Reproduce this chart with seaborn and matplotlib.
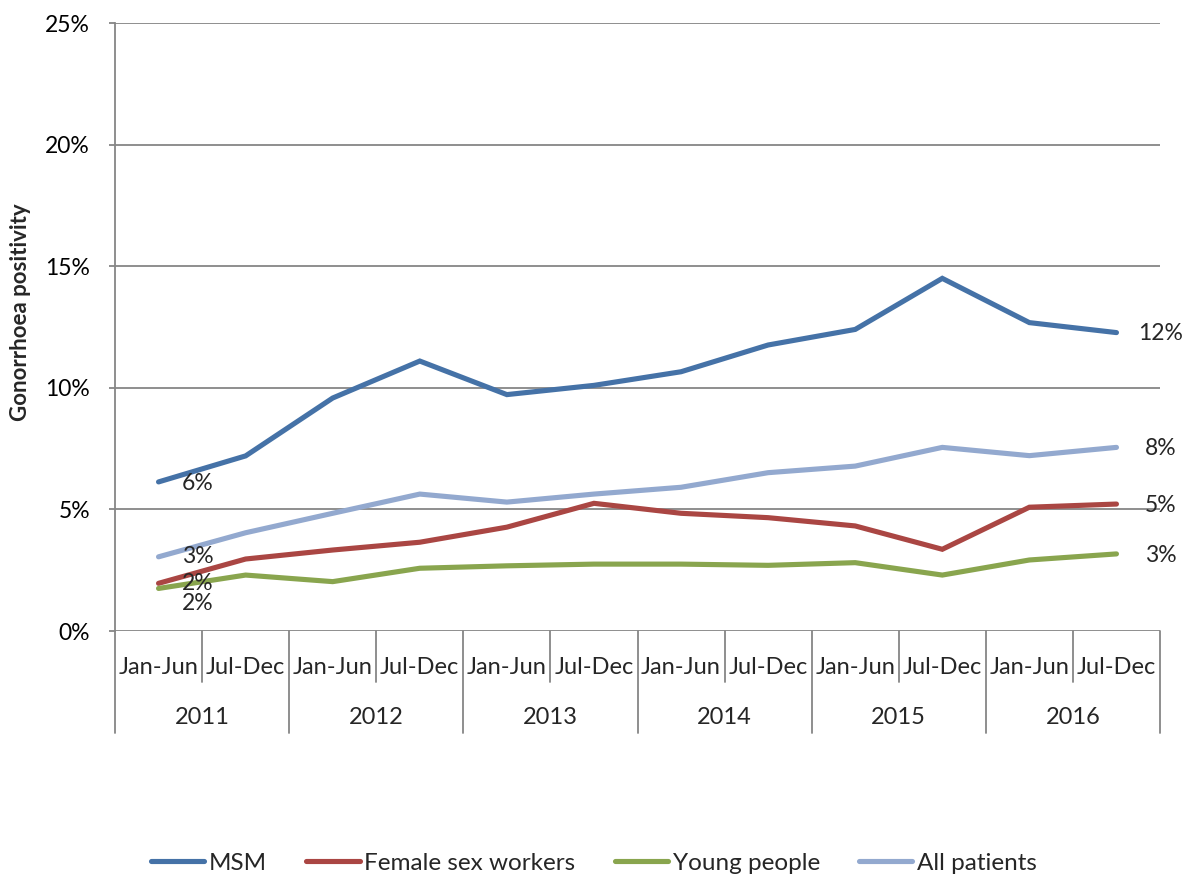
import matplotlib
matplotlib.use("Agg")
import matplotlib.pyplot as plt
import matplotlib.transforms as mtransforms
from matplotlib.ticker import FuncFormatter, MultipleLocator
import pandas as pd
import seaborn as sns

# data (percent)
years = ["2011", "2012", "2013", "2014", "2015", "2016"]
halves = ["Jan-Jun", "Jul-Dec"]
msm = [6.13, 7.2, 9.58, 11.1, 9.72, 10.1, 10.66, 11.76, 12.4, 14.5, 12.68, 12.27]
female_sex_workers = [1.96, 2.96, 3.33, 3.65, 4.27, 5.25, 4.84, 4.66, 4.32, 3.36, 5.09, 5.22]
young_people = [1.75, 2.30, 2.03, 2.58, 2.68, 2.75, 2.75, 2.70, 2.81, 2.30, 2.92, 3.17]
all_patients = [3.05, 4.04, 4.84, 5.63, 5.30, 5.63, 5.91, 6.51, 6.78, 7.55, 7.21, 7.55]

groups = {
    "MSM": msm,
    "Female sex workers": female_sex_workers,
    "Young people": young_people,
    "All patients": all_patients,
}
colores = {
    "MSM": "#4572A7",
    "Female sex workers": "#AA4643",
    "Young people": "#89A54E",
    "All patients": "#93A9CF",
}

periodos = [f"{h} {y}" for y in years for h in halves]
filas = []
for grupo, valores in groups.items():
    for i, v in enumerate(valores):
        filas.append({"x": i, "periodo": periodos[i], "grupo": grupo, "valor": v})
df = pd.DataFrame(filas)

sns.set_style("white")
plt.rcParams["font.family"] = ["Lato", "DejaVu Sans"]

GRIS = "#868686"

fig = plt.figure(figsize=(11.88, 8.77), dpi=100)
ax = fig.add_axes([115 / 1188, 1 - 631 / 877, (1160 - 115) / 1188, (631 - 23) / 877])

sns.lineplot(
    data=df, x="x", y="valor", hue="grupo", hue_order=list(groups),
    palette=colores, linewidth=3.7, ax=ax, legend=True,
)
for line in ax.lines:
    line.set_solid_capstyle("round")
    line.set_solid_joinstyle("miter")

ax.set_xlim(-0.5, 11.5)
ax.set_ylim(0, 25)
ax.yaxis.set_major_locator(MultipleLocator(5))
ax.yaxis.set_major_formatter(FuncFormatter(lambda v, p: f"{v:.0f}%"))
ax.grid(axis="y", color=GRIS, linewidth=1.3)
ax.set_axisbelow(True)
for lado in ("top", "right", "bottom"):
    ax.spines[lado].set_visible(False)
ax.spines["left"].set_color(GRIS)
ax.spines["left"].set_linewidth(1.3)
ax.tick_params(axis="y", left=True, length=4, width=1.3, color=GRIS,
               labelsize=16.5, labelcolor="#000000", pad=14)
ax.set_xticks([])
ax.set_xlabel("")
ax.set_ylabel("Gonorrhoea positivity", fontsize=16, fontweight="bold")
ax.yaxis.set_label_coords(-0.08, 0.525)

# multi-level category axis
trans = mtransforms.blended_transform_factory(ax.transData, ax.transAxes)
px = 1 / (631 - 23)
for b in range(13):
    xb = b - 0.5
    largo = 102 if b % 2 == 0 else 51
    ax.plot([xb, xb], [0, -largo * px], color=GRIS, linewidth=1.3,
            transform=trans, clip_on=False)
for i in range(12):
    ax.text(i, -36 * px, halves[i % 2], transform=trans, ha="center", va="center",
            fontsize=17)
for j, y in enumerate(years):
    ax.text(2 * j + 0.5, -87 * px, y, transform=trans, ha="center", va="center",
            fontsize=17)

# data labels at first and last point
offsets_inicio = {"MSM": -1, "Female sex workers": 0, "Young people": -11, "All patients": 0}
for grupo, valores in groups.items():
    ax.annotate(f"{valores[0]:.0f}%", (0, valores[0]), xytext=(28, offsets_inicio[grupo]),
                textcoords="offset points", ha="center", va="center", fontsize=16.5)
    ax.annotate(f"{valores[-1]:.0f}%", (11, valores[-1]), xytext=(32, -1),
                textcoords="offset points", ha="center", va="center", fontsize=16.5)

handles, labels = ax.get_legend_handles_labels()
ax.legend(handles, labels, loc="center", bbox_to_anchor=(0.5, 1 - 863 / 877),
          bbox_transform=fig.transFigure, ncol=4, frameon=False, fontsize=17.5,
          handlelength=2.2, handletextpad=0.2, columnspacing=1.6)

fig.savefig("out.png", dpi=100)
